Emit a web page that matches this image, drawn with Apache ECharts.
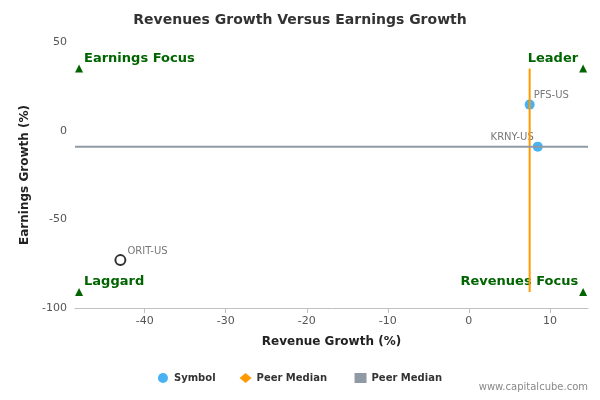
<!DOCTYPE html><html><head><meta charset="utf-8"><script src="https://cdn.jsdelivr.net/npm/echarts@6/dist/echarts.min.js"></script></head><body style="margin:0"><div id="c" style="width:600px;height:400px"></div><script>
const symbols=['PFS-US','KRNY-US'];
const symbolX=[7.5,8.5];
const symbolY=[14.7,-9];
const subject={name:'ORIT-US',x:-43,y:-73};
const medianX=7.5, medianY=-9;
const corners=[['Earnings Focus',-48.1,35],['Leader',14.1,35],['Laggard',-48.1,-91],['Revenues Focus',14.1,-91]];
const xTicks=[-40,-30,-20,-10,0,10];
const XMIN=-48.6,XMAX=14.7,YMIN=-100,YMAX=50;
const ch=echarts.init(document.getElementById('c'));
const green='#006400';
ch.setOption({
 animation:false,
 title:{text:'Revenues Growth Versus Earnings Growth',left:'center',top:8,textStyle:{fontFamily:'DejaVu Sans',fontSize:14,fontWeight:'bold',color:'#333'}},
 grid:{left:75,right:12,top:42,bottom:92},
 xAxis:{type:'value',min:XMIN,max:XMAX,name:'Revenue Growth (%)',nameLocation:'middle',nameGap:28,nameTextStyle:{fontFamily:'DejaVu Sans',fontWeight:'bold',fontSize:12,color:'#222'},
  axisLine:{onZero:false,lineStyle:{color:'#c0c0c0'}},axisTick:{show:true,customValues:xTicks,lineStyle:{color:'#c0c0c0'}},axisLabel:{customValues:xTicks,color:'#555',fontFamily:'DejaVu Sans',fontSize:11},splitLine:{show:false}},
 yAxis:{type:'value',min:YMIN,max:YMAX,interval:50,name:'Earnings Growth (%)',nameLocation:'middle',nameGap:42,nameTextStyle:{fontFamily:'DejaVu Sans',fontWeight:'bold',fontSize:12,color:'#222'},
  axisLine:{show:false},axisTick:{show:false},axisLabel:{color:'#555',fontFamily:'DejaVu Sans',fontSize:11},splitLine:{show:false}},
 legend:{bottom:12,left:'center',itemGap:24,itemWidth:12,itemHeight:10,textStyle:{fontFamily:'DejaVu Sans',fontSize:10,fontWeight:'bold',color:'#333'},
  data:[{name:'Symbol',icon:'circle'},{name:'Peer Median ',icon:'diamond'},{name:'Peer Median',icon:'rect'}]},
 graphic:[{type:'text',right:12,bottom:8,style:{text:'www.capitalcube.com',fill:'#888',font:'10px DejaVu Sans'}}],
 series:[
  {name:'Symbol',type:'scatter',symbolSize:10,itemStyle:{color:'#1a9ff0'},
   data:symbols.map((s,i)=>({value:[symbolX[i],symbolY[i]],name:s,label:{show:true,position:i==0?'right':'left',offset:i==0?[-6,-9]:[6,-9],formatter:s,color:'#555',fontSize:10,fontFamily:'DejaVu Sans'}}))},
  {name:'Subject',type:'scatter',symbolSize:10,itemStyle:{color:'#fff',borderColor:'#000',borderWidth:2},
   data:[{value:[subject.x,subject.y],label:{show:true,position:'right',offset:[-4,-9],formatter:subject.name,color:'#555',fontSize:10,fontFamily:'DejaVu Sans'}}]},
  {name:'Peer Median ',type:'line',symbol:'none',lineStyle:{color:'#ff9900',width:2},itemStyle:{color:'#ff9900'},data:[[medianX,35],[medianX,-91]]},
  {name:'Peer Median',type:'line',symbol:'none',lineStyle:{color:'#8f9aa5',width:2},itemStyle:{color:'#8f9aa5'},data:[[XMIN,medianY],[XMAX,medianY]]},
  {name:'Corners',type:'scatter',symbol:'triangle',symbolSize:8,itemStyle:{color:green,opacity:1},
   data:corners.map((c,i)=>({value:[c[1],c[2]],label:{show:true,position:i%2==0?'right':'left',offset:i%2==0?[-4,-10]:[4,-10],formatter:c[0],color:green,fontWeight:'bold',fontSize:13,fontFamily:'DejaVu Sans'}}))}
 ]
});
</script></body></html>
